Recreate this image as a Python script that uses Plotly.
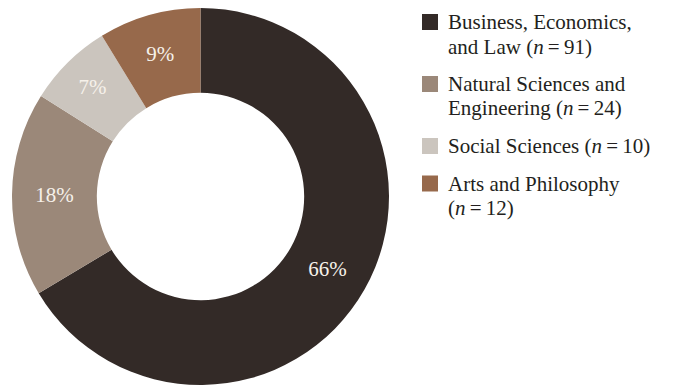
import plotly.graph_objects as go

# Field of study of respondents
categories = [
    "Business, Economics, and Law",
    "Natural Sciences and Engineering",
    "Social Sciences",
    "Arts and Philosophy",
]
counts = [91, 24, 10, 12]
legend_lines = [
    ["Business, Economics,", "and Law "],
    ["Natural Sciences and", "Engineering "],
    ["Social Sciences "],
    ["Arts and Philosophy", ""],
]
colors = ["#332a27", "#9b8879", "#cbc5be", "#97694b"]

W, H = 678, 387
FONT = "Liberation Serif"
TEXT_COLOR = "#231f20"

fig = go.Figure()
fig.add_trace(go.Pie(
    labels=categories,
    values=counts,
    hole=0.55,
    sort=False,
    direction="clockwise",
    rotation=0,
    marker=dict(colors=colors, line=dict(width=0)),
    texttemplate="%{percent:.0%}",
    textposition="inside",
    insidetextorientation="horizontal",
    insidetextfont=dict(family=FONT, size=21, color="#f6f1ea"),
    domain=dict(x=[12 / W, 389 / W], y=[2 / H, 379 / H]),
    showlegend=False,
    hoverinfo="label+value+percent",
))

# Legend drawn as swatches plus one text line per annotation
shapes, annotations = [], []
sw = 16
x_sw = 422
x_txt = 446
line_h = 24.5
gap = 13
top = 14
for lines, n, c in zip(legend_lines, counts, colors):
    shapes.append(dict(
        type="rect", xref="paper", yref="paper",
        x0=x_sw / W, x1=(x_sw + sw) / W,
        y0=1 - (top + sw) / H, y1=1 - top / H,
        fillcolor=c, line=dict(width=0),
    ))
    lines = lines[:-1] + [lines[-1] + f"(<i>n</i>\u2009=\u2009{n})"]
    for i, line in enumerate(lines):
        annotations.append(dict(
            xref="paper", yref="paper",
            x=x_txt / W, y=1 - (top + sw / 2 + i * line_h) / H,
            xanchor="left", yanchor="middle", align="left",
            text=line,
            showarrow=False,
            font=dict(family=FONT, size=21, color=TEXT_COLOR),
        ))
    top += len(lines) * line_h + gap

fig.update_layout(
    width=W, height=H,
    margin=dict(l=0, r=0, t=0, b=0),
    paper_bgcolor="white",
    plot_bgcolor="white",
    shapes=shapes,
    annotations=annotations,
)

fig.write_html("out.html")
